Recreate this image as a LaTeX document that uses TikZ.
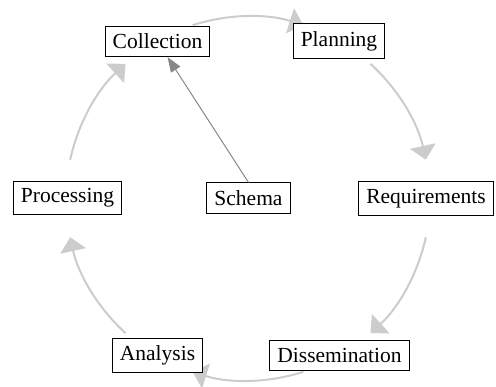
\documentclass[tikz,border=0pt]{standalone}
\usepackage{fontspec}
\setmainfont{Liberation Serif}
\newfontfamily\stagefont{Liberation Serif}
\usetikzlibrary{arrows.meta}
\definecolor{cyclegray}{HTML}{CCCCCC}
\definecolor{feedgray}{HTML}{888888}
\begin{document}
\begin{tikzpicture}[x=1pt,y=1pt,
  stage/.style={draw=black, line width=1pt, fill=white,
    inner xsep=7.5pt, inner ysep=7.5pt,
    font=\stagefont\fontsize{21.5}{26}\selectfont},
  cycle/.style={draw=cyclegray, line width=2pt,
    -{Triangle[length=14pt,width=26pt,fill=cyclegray]}},
  feed/.style={draw=feedgray, line width=1pt,
    -{Triangle[length=15pt,width=11pt,fill=feedgray]}}]
\useasboundingbox (0,0) rectangle (496,387);

% centre of the cycle
\coordinate (ctr) at (248,188.5);

% start points of the six arcs
\path (ctr) ++(107.7:182pt) coordinate (s1);
\path (ctr) ++(47.7:182pt)  coordinate (s2);
\path (ctr) ++(-12.3:182pt) coordinate (s3);
\path (ctr) ++(-72.3:182pt) coordinate (s4);
\path (ctr) ++(-132.3:182pt) coordinate (s5);
\path (ctr) ++(167.7:182pt) coordinate (s6);

% the cycle, running clockwise
\draw[cycle] (s1) arc[start angle=107.7, end angle=72.3, radius=182pt];
\draw[cycle] (s2) arc[start angle=47.7, end angle=12.3, radius=182pt];
\draw[cycle] (s3) arc[start angle=-12.3, end angle=-47.7, radius=182pt];
\draw[cycle] (s4) arc[start angle=-72.3, end angle=-107.7, radius=182pt];
\draw[cycle] (s5) arc[start angle=-132.3, end angle=-167.7, radius=182pt];
\draw[cycle] (s6) arc[start angle=167.7, end angle=132.3, radius=182pt];

% stages
\node[stage] (collection)    at (157.5,345.5) {Collection};
\node[stage] (planning)      at (339,346)     {Planning};
\node[stage] (requirements)  at (426,188.5)   {Requirements};
\node[stage] (dissemination) at (339.5,31.5)  {Dissemination};
\node[stage] (analysis)      at (157.5,31.5)  {Analysis};
\node[stage] (processing)    at (67.5,189)    {Processing};
\node[stage] (schema)        at (248.5,189)   {Schema};

% schema feeds collection
\draw[feed] (schema.north) -- (collection);
\end{tikzpicture}
\end{document}
